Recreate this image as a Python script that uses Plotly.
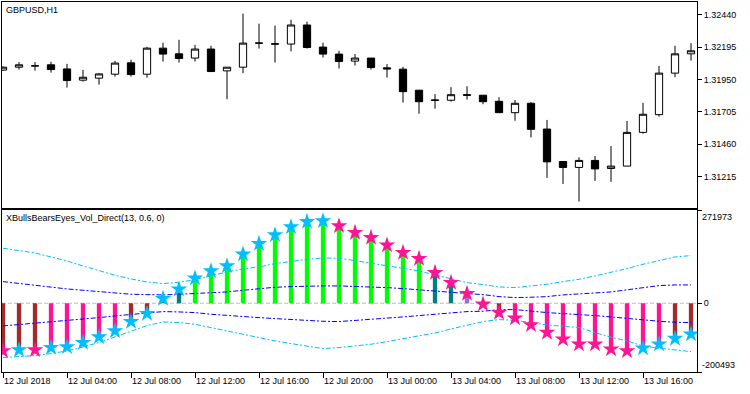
import plotly.graph_objects as go

# ---------------- data ----------------
opens = [1.32021, 1.32043, 1.32053, 1.32061, 1.32030, 1.31945, 1.31960, 1.31990, 1.32076, 1.31990,
         1.32187, 1.32144, 1.32112, 1.32180, 1.32015, 1.32043, 1.32225, 1.32220, 1.32218, 1.32362,
         1.32195, 1.32142, 1.32089, 1.32112, 1.32038, 1.32028, 1.31869, 1.31795, 1.31793, 1.31835,
         1.31831, 1.31785, 1.31699, 1.31770, 1.31575, 1.31330, 1.31285, 1.31338, 1.31277, 1.31295,
         1.31550, 1.31684, 1.31998, 1.32144]
highs = [1.32049, 1.32081, 1.32081, 1.32084, 1.32068, 1.32023, 1.31998, 1.32091, 1.32099, 1.32197,
         1.32228, 1.32250, 1.32212, 1.32205, 1.32043, 1.32448, 1.32372, 1.32357, 1.32402, 1.32387,
         1.32228, 1.32167, 1.32142, 1.32112, 1.32066, 1.32046, 1.31869, 1.31839, 1.31892, 1.31899,
         1.31831, 1.31816, 1.31795, 1.31780, 1.31644, 1.31330, 1.31361, 1.31371, 1.31446, 1.31636,
         1.31773, 1.32053, 1.32205, 1.32225]
lows = [1.32015, 1.32025, 1.32017, 1.32002, 1.31889, 1.31934, 1.31911, 1.31972, 1.31972, 1.31964,
        1.32086, 1.32078, 1.32086, 1.32010, 1.31801, 1.31998, 1.32184, 1.32078, 1.32162, 1.32184,
        1.32116, 1.32033, 1.32055, 1.32025, 1.31964, 1.31775, 1.31691, 1.31729, 1.31782, 1.31798,
        1.31763, 1.31699, 1.31638, 1.31512, 1.31206, 1.31160, 1.31027, 1.31183, 1.31176, 1.31295,
        1.31540, 1.31669, 1.31967, 1.32093]
closes = [1.32043, 1.32061, 1.32053, 1.32025, 1.31942, 1.31967, 1.31992, 1.32074, 1.31987, 1.32187,
          1.32142, 1.32109, 1.32180, 1.32010, 1.32043, 1.32225, 1.32225, 1.32218, 1.32362, 1.32192,
          1.32142, 1.32086, 1.32112, 1.32040, 1.32030, 1.31858, 1.31782, 1.31793, 1.31835, 1.31831,
          1.31782, 1.31699, 1.31770, 1.31573, 1.31327, 1.31285, 1.31338, 1.31274, 1.31295, 1.31550,
          1.31687, 1.31998, 1.32144, 1.32167]

vol_direct = [-139000, -136100, -136100, -129300, -127300, -114700, -98200, -80700, -53500, -30100,
              13600, 40800, 72900, 94300, 108900, 142900, 174000, 199300, 222600, 238100,
              240100, 225500, 206100, 191500, 169100, 147700, 130200, 89400, 60300, 28200,
              -2900, -27200, -43700, -63200, -85500, -104900, -119600, -119600, -134100, -139000,
              -131200, -119600, -103000, -90400]

# histogram colour state per bar
hist_state = (["bear_weak"] * 3 + ["bear_strong"] * 5 + ["bear_weak"] * 2 + ["bull_weak"] * 2 +
              ["bull_strong"] * 15 + ["bull_weak"] * 2 + ["neutral"] + ["bear_weak"] * 2 +
              ["bear_strong"] * 10 + ["bear_weak"] * 2)
# star direction per bar
star_state = (["down", "up", "down"] + ["up"] * 18 + ["down"] * 19 + ["up"] * 4)

upper2 = [160380, 153580, 146770, 135110, 123440, 108860, 94280, 81650, 70960, 62210,
          57350, 61240, 69010, 80680, 91370, 100120, 105950, 115670, 122470, 128300,
          132190, 131220, 124420, 116640, 109840, 102060, 94280, 82620, 70960, 60260,
          54430, 47630, 45680, 49570, 55400, 63180, 69980, 79700, 89420, 101090,
          113720, 123440, 135110, 139000]
upper1 = [63180, 57350, 51520, 45680, 41800, 37910, 34020, 30130, 26240, 25270,
          24300, 26240, 28190, 30130, 33050, 37910, 42770, 46660, 48600, 50540,
          50540, 50540, 49570, 47630, 45680, 42770, 39850, 35960, 32080, 28190,
          25270, 19440, 16520, 17500, 19440, 24300, 28190, 30130, 33050, 38880,
          45680, 51520, 53460, 53460]
lower1 = [-66100, -62210, -58320, -55400, -51520, -46660, -41800, -36940, -32080, -28190,
          -24300, -25270, -27220, -32080, -35960, -39850, -41800, -44710, -47630, -49570,
          -52490, -53460, -50540, -46660, -42770, -39850, -35960, -32080, -28190, -24300,
          -23330, -18470, -18470, -23330, -27220, -30130, -32080, -35960, -39850, -44710,
          -49570, -52490, -55400, -56380]
lower2 = [-158440, -155520, -152600, -146770, -139000, -127330, -114700, -98170, -81650, -65120,
          -54430, -56380, -61240, -70960, -81650, -92340, -100120, -109840, -117610, -124420,
          -132190, -129280, -124420, -119560, -111780, -104000, -95260, -86510, -74840, -63180,
          -53460, -47630, -49570, -56380, -63180, -67070, -70960, -85540, -99140, -109840,
          -124420, -131220, -137050, -140940]

price_ticks = [1.32440, 1.32195, 1.31950, 1.31705, 1.31460, 1.31215]
ind_max = 271973
ind_min = -200493
time_tick_bars = [0, 4, 8, 12, 16, 20, 24, 28, 32, 36, 40]
time_tick_labels = ["12 Jul 2018", "12 Jul 04:00", "12 Jul 08:00", "12 Jul 12:00", "12 Jul 16:00",
                    "12 Jul 20:00", "13 Jul 00:00", "13 Jul 04:00", "13 Jul 08:00", "13 Jul 12:00",
                    "13 Jul 16:00"]
symbol_title = "GBPUSD,H1"
indicator_title = "XBullsBearsEyes_Vol_Direct(13, 0.6, 0)"

# ---------------- styles ----------------
hist_colors = {"bull_strong": "#00FF00", "bull_weak": "#008080", "neutral": "#9370DB",
               "bear_weak": "#A52A2A", "bear_strong": "#FF1493"}
star_colors = {"up": "#00BFFF", "down": "#FF1493"}
FONT = "Liberation Sans, Arial, sans-serif"

n = len(opens)
idx = list(range(n))
xr = [-0.0625, n - 0.625]

fig = go.Figure()

fig.add_trace(go.Candlestick(
    x=idx, open=opens, high=highs, low=lows, close=closes, xaxis="x", yaxis="y",
    increasing=dict(line=dict(color="black", width=1), fillcolor="white"),
    decreasing=dict(line=dict(color="black", width=1), fillcolor="black"),
    whiskerwidth=0, showlegend=False, hoverinfo="skip"))

fig.add_trace(go.Bar(
    x=idx, y=vol_direct, xaxis="x2", yaxis="y2", width=0.27,
    marker=dict(color=[hist_colors[s] for s in hist_state], line=dict(width=0)),
    showlegend=False, hoverinfo="skip"))

for vals, col in [(upper2, "#00BFFF"), (upper1, "#0000FF"), (lower1, "#0000FF"), (lower2, "#00BFFF")]:
    fig.add_trace(go.Scatter(
        x=idx, y=vals, xaxis="x2", yaxis="y2", mode="lines",
        line=dict(color=col, width=1, dash="5px,2px,2px,2px"),
        showlegend=False, hoverinfo="skip"))

fig.add_trace(go.Scatter(
    x=idx, y=vol_direct, xaxis="x2", yaxis="y2", mode="markers",
    marker=dict(symbol="star", size=12.5, color=[star_colors[s] for s in star_state], line=dict(width=0)),
    showlegend=False, hoverinfo="skip"))

fig.add_shape(type="line", xref="x2 domain", x0=0, x1=1, yref="y2", y0=0, y1=0,
              line=dict(color="#BEBEBE", width=1, dash="4px,2px"), layer="below")

axis_common = dict(showgrid=False, zeroline=False, showline=True, mirror=True, automargin=False,
                   linecolor="black", linewidth=1, tickcolor="black",
                   tickfont=dict(family=FONT, size=9, color="black"))

fig.update_layout(
    width=750, height=394, margin=dict(l=2, r=53, t=2, b=22, autoexpand=False),
    paper_bgcolor="white", plot_bgcolor="white", showlegend=False, boxgap=0.35,
    xaxis=dict(domain=[0, 1], anchor="y", range=xr, showticklabels=False, ticks="",
               rangeslider=dict(visible=False), **axis_common),
    yaxis=dict(domain=[0.4432, 1], anchor="x", side="right", range=[1.30978, 1.32536],
               tickvals=price_ticks, ticktext=[f"{v:.5f}" for v in price_ticks],
               ticks="outside", ticklen=4, **axis_common),
    xaxis2=dict(domain=[0, 1], anchor="y2", range=xr, tickvals=time_tick_bars,
                ticktext=time_tick_labels, ticks="outside", ticklen=5,
                ticklabelposition="outside right", **axis_common),
    yaxis2=dict(domain=[0, 0.4378], anchor="x2", side="right", range=[ind_min, ind_max],
                tickvals=[ind_max, 0, ind_min], ticktext=["", "0", ""],
                ticks="outside", ticklen=4, **axis_common),
)

ann_font = dict(family=FONT, size=9, color="black")
fig.add_annotation(text=symbol_title, xref="paper", x=0, xanchor="left", xshift=2,
                   yref="y domain", y=1, yanchor="top", yshift=-1, showarrow=False, font=ann_font)
fig.add_annotation(text=indicator_title, xref="paper", x=0, xanchor="left", xshift=2,
                   yref="y2 domain", y=1, yanchor="top", yshift=-1, showarrow=False, font=ann_font)
fig.add_annotation(text=str(ind_max), xref="paper", x=1, xanchor="left", xshift=3,
                   yref="y2", y=ind_max, yanchor="top", yshift=0, showarrow=False, font=ann_font)
fig.add_annotation(text=str(ind_min), xref="paper", x=1, xanchor="left", xshift=3,
                   yref="y2", y=ind_min, yanchor="bottom", yshift=0, showarrow=False, font=ann_font)

fig.write_html("out.html", config={"displayModeBar": False},
               post_script="document.body.style.margin='0px';document.body.style.overflow='hidden';")
